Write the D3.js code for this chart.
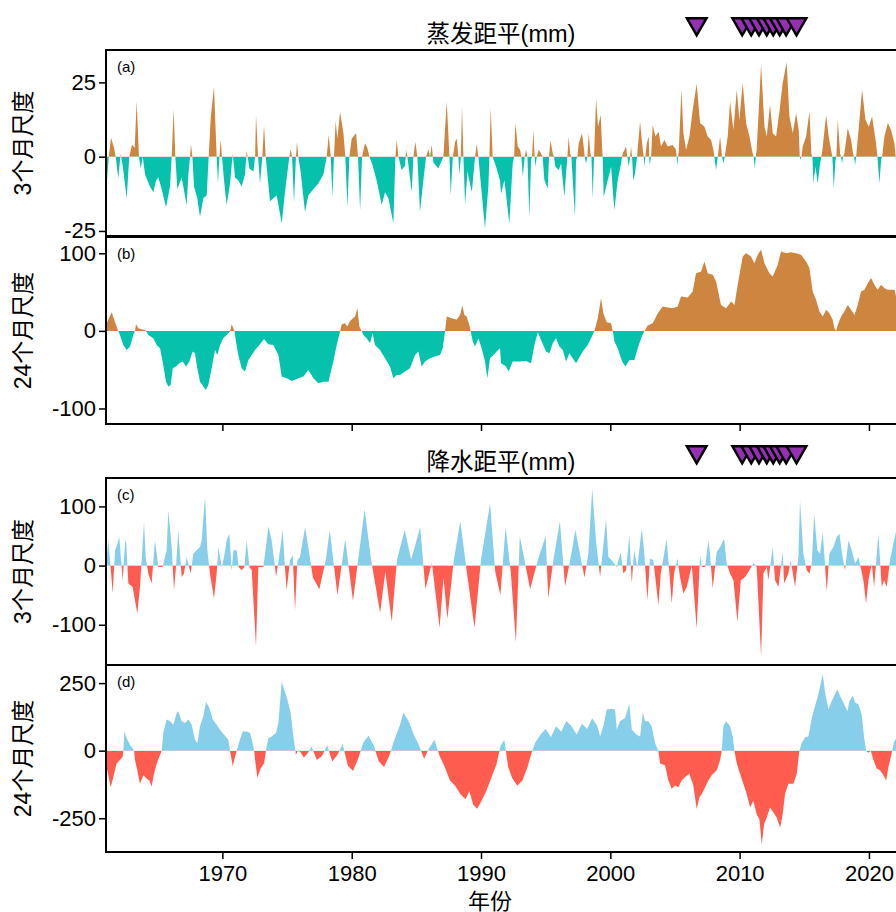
<!DOCTYPE html>
<html>
<head>
<meta charset="utf-8">
<script src="https://cdn.jsdelivr.net/npm/d3@7"></script>
<style>
  html, body { margin: 0; padding: 0; background: #fff; }
  svg { display: block; }
  text { font-family: "Liberation Sans", Arial, "Noto Sans CJK SC", sans-serif; fill: #000; }
</style>
</head>
<body>
<svg id="chart" width="896" height="912"></svg>
<script>
// ---- data: [decimal year, anomaly in mm] ----
const evap3 = [
[1961.00,-13],[1961.21,0],[1961.39,6.4],[1961.62,3],[1961.75,0],[1961.95,-7.3],[1962.13,1],[1962.29,-3],[1962.60,-14],[1962.80,0],[1963.01,4],[1963.22,3],[1963.37,18.6],[1963.55,0],[1963.68,-4],[1963.84,0],[1964.02,-6],[1964.40,-10],[1964.66,-12],[1964.87,-8],[1965.05,-7],[1965.31,-11],[1965.64,-17],[1965.95,-10],[1966.08,0],[1966.23,16],[1966.36,0],[1966.52,-11],[1966.85,-7],[1967.24,-16.3],[1967.37,-6],[1967.50,0],[1967.57,4.2],[1967.68,0],[1967.81,-10],[1968.06,-14],[1968.27,-20.3],[1968.53,-14],[1968.79,-13],[1968.94,0],[1969.10,13],[1969.35,23.6],[1969.56,0],[1969.66,-9],[1969.77,0],[1969.87,5.6],[1969.97,0],[1970.13,-8],[1970.33,-16.3],[1970.59,-9],[1970.80,1],[1970.98,-7],[1971.24,-8],[1971.49,-10],[1971.75,-6],[1971.88,2],[1972.09,-4],[1972.40,-5],[1972.53,0],[1972.60,14],[1972.76,0],[1972.91,-9],[1973.09,0],[1973.22,10.7],[1973.35,0],[1973.68,-15],[1974.20,-13],[1974.59,-22.5],[1974.84,-12],[1975.18,0],[1975.28,2.5],[1975.39,0],[1975.54,-15.5],[1975.69,0],[1975.77,5],[1975.87,0],[1976.05,-5],[1976.39,-18.6],[1976.65,-13],[1977.03,-11],[1977.42,-9],[1977.81,-6],[1978.07,0],[1978.22,7.3],[1978.38,0],[1978.51,-13.5],[1978.63,0],[1978.76,12],[1978.89,6],[1979.10,15],[1979.36,8],[1979.51,0],[1979.67,-17],[1979.82,0],[1980.00,6],[1980.34,8],[1980.49,0],[1980.65,-18],[1980.80,0],[1981.03,4.5],[1981.21,3],[1981.37,0],[1981.62,-3],[1981.93,-8],[1982.32,-16.3],[1982.58,-12],[1982.84,-14],[1983.22,-22.5],[1983.38,0],[1983.48,5.6],[1983.61,0],[1983.87,-4.5],[1984.13,-3],[1984.20,2.3],[1984.31,0],[1984.64,-12],[1984.77,0],[1984.92,5],[1985.08,0],[1985.28,-18.6],[1985.54,-8],[1985.75,0],[1985.93,2.5],[1986.06,0],[1986.19,4],[1986.32,-2],[1986.70,-4],[1987.09,0],[1987.35,18.6],[1987.56,0],[1987.66,-13],[1987.82,0],[1988.00,5],[1988.12,6],[1988.25,0],[1988.33,-6],[1988.44,0],[1988.53,17],[1988.64,0],[1988.77,-16.3],[1988.95,-5],[1989.29,-12],[1989.54,0],[1989.67,4.2],[1989.80,0],[1989.92,-6],[1990.31,-24.2],[1990.57,-10],[1990.65,0],[1990.75,16.3],[1990.90,0],[1991.21,-4],[1991.47,-8],
[1991.55,-12.4],[1991.81,-7.9],[1992.19,-22.5],[1992.45,-2.3],[1992.56,0],[1992.66,11.3],[1992.84,3.4],[1993.02,2.3],[1993.12,0],[1993.23,-6.8],[1993.38,0],[1993.48,2.3],[1993.59,0],[1993.74,-20.3],[1993.87,-1],[1993.95,0],[1994.05,9],[1994.15,0],[1994.21,-3.4],[1994.31,0],[1994.46,2.3],[1994.64,1.1],[1994.77,0],[1994.90,-7.9],[1995.16,-10.7],[1995.26,0],[1995.37,5.6],[1995.55,1.1],[1995.65,0],[1995.75,-3.4],[1996.01,-4.5],[1996.19,-2.3],[1996.45,-13.5],[1996.58,-5.6],[1996.68,0],[1996.78,6.8],[1996.89,1.1],[1996.99,0],[1997.27,-20.3],[1997.35,-1.1],[1997.45,0],[1997.56,4.5],[1997.81,7.9],[1997.94,3.4],[1998.02,0],[1998.12,-2.3],[1998.23,0],[1998.33,7.9],[1998.46,1.1],[1998.54,0],[1998.64,-14],[1998.74,0],[1998.90,19.7],[1999.05,10.1],[1999.26,14],[1999.36,3.6],[1999.41,0],[1999.49,-13.5],[1999.80,-7.9],[2000.06,-3.4],[2000.31,-18],[2000.57,-7.9],[2000.83,-2.3],[2000.91,0],[2000.96,1.1],[2001.22,3.4],[2001.32,0],[2001.42,-3.4],[2001.53,0],[2001.60,3.4],[2001.68,0],[2001.78,-8],[2001.91,-5.6],[2002.07,0],[2002.30,11.8],[2002.51,2.3],[2002.59,0],[2002.64,-3.4],[2002.71,0],[2002.82,4.5],[2002.97,6.8],[2003.01,0],[2003.05,-3],[2003.15,0],[2003.28,10.7],[2003.49,6.8],[2003.74,8.4],[2003.92,3.4],[2004.18,5.6],[2004.44,3.4],[2004.83,3.9],[2005.08,2.3],[2005.13,0],[2005.19,-3],[2005.24,0],[2005.29,1.5],[2005.50,22.7],[2005.65,7.9],[2005.86,2.3],[2006.12,6.8],[2006.37,15.8],[2006.68,24.5],[2006.94,11.3],[2007.28,10.1],[2007.53,6.8],[2007.79,5.6],[2007.97,2.3],[2008.05,0],[2008.18,-4.5],[2008.31,0],[2008.49,6.8],[2008.64,0],[2008.75,-2.3],[2008.85,0],[2009.08,6.8],[2009.26,18.6],[2009.52,9],[2009.78,22.5],[2009.98,12.4],[2010.24,24.8],[2010.50,11.3],[2010.76,6.8],[2011.01,1.1],[2011.09,0],[2011.17,-4],[2011.25,0],[2011.32,2.3],[2011.66,31],[2011.92,10.1],[2012.10,6.8],[2012.35,17.5],[2012.56,7.9],[2012.82,6.8],[2013.08,15.2],[2013.33,24.8],[2013.64,31.8],[2013.85,13.5],[2014.11,7.9],[2014.37,14.6],[2014.57,9],[2014.65,0],[2014.70,-1],[2014.78,0],[2014.88,3.4],[2015.14,6.8],[2015.40,15.2],[2015.55,1],[2015.63,0],[2015.71,-9],[2015.86,-3.4],[2016.04,-9],[2016.22,-2.3],[2016.32,0],[2016.43,3.4],[2016.69,14],[2016.89,6.8],[2017.07,2.3],[2017.17,0],[2017.28,-10.7],[2017.41,-1.1],[2017.48,0],[2017.59,12.4],[2017.77,1.1],[2017.85,0],[2017.92,-2.3],[2018.00,0],[2018.10,1.1],[2018.36,9.6],[2018.62,5.6],[2018.77,1.1],[2018.85,0],[2018.93,-2.8],[2019.01,0],[2019.13,5.6],[2019.47,22.5],[2019.73,12.4],[2019.99,10.1],[2020.24,13.5],[2020.55,4.5],[2020.66,0],[2020.81,-9],[2020.94,-1],[2021.02,0],[2021.20,6.8],[2021.46,11.3],[2021.71,9],[2021.97,4.5],[2022.07,0],[2022.17,-7.8]
];

const evap24 = [
[1961.00,8],[1961.44,24.1],[1961.70,11.2],[1961.95,0],[1962.08,-5.2],[1962.34,-18.1],[1962.60,-24.5],[1962.86,-20.2],[1963.11,-5.2],[1963.24,0],[1963.32,8.6],[1963.50,3.4],[1963.76,2.2],[1964.02,1.3],[1964.09,0],[1964.27,-5.2],[1964.66,-9.5],[1964.92,-18.1],[1965.18,-22.4],[1965.43,-43.9],[1965.64,-65.4],[1965.82,-71.8],[1966.00,-69.7],[1966.16,-48.2],[1966.41,-46],[1966.67,-41.7],[1966.93,-39.6],[1967.19,-46],[1967.45,-39.6],[1967.70,-26.7],[1967.88,-28.8],[1968.06,-48.2],[1968.27,-65.4],[1968.53,-71.8],[1968.73,-76.1],[1968.91,-69.7],[1969.17,-48.2],[1969.43,-24.5],[1969.61,-31],[1969.82,-18.1],[1970.07,-9.5],[1970.33,-5.2],[1970.59,-0.9],[1970.72,8.6],[1970.85,3.4],[1970.93,0],[1971.05,-13.8],[1971.23,-31],[1971.49,-48.2],[1971.75,-52.5],[1972.01,-37.4],[1972.27,-31],[1972.52,-24.5],[1972.86,-18.1],[1973.22,-10.3],[1973.55,-17.2],[1973.94,-18.1],[1974.33,-31],[1974.59,-58.9],[1974.97,-61.1],[1975.36,-64.5],[1975.75,-61.9],[1976.26,-58.9],[1976.65,-50.3],[1977.04,-61.1],[1977.42,-67.5],[1977.81,-65.4],[1978.20,-65.4],[1978.58,-39.6],[1978.84,-18.1],[1979.10,-0.9],[1979.23,8.6],[1979.48,9.9],[1979.66,5.6],[1979.87,12.9],[1980.26,18.5],[1980.44,29.2],[1980.59,5.6],[1980.77,0],[1980.90,-5.2],[1981.16,-9.5],[1981.42,-15.9],[1981.62,-3],[1981.80,-18.1],[1982.19,-24.5],[1982.58,-35.3],[1982.96,-46],[1983.22,-61.1],[1983.48,-56.8],[1983.74,-56.8],[1984.12,-52.5],[1984.51,-48.2],[1984.90,-31],[1985.16,-26.7],[1985.41,-46],[1985.67,-39.6],[1986.06,-35.3],[1986.44,-33.1],[1986.83,-31],[1987.04,-22.4],[1987.22,0],[1987.35,18.5],[1987.73,16.3],[1988.12,14.2],[1988.38,20.6],[1988.56,32.7],[1988.71,20.6],[1988.89,18.5],[1989.10,7.7],[1989.20,0],[1989.36,-13.8],[1989.54,-20.2],[1989.80,-9.5],[1990.05,-22.4],[1990.31,-39.6],[1990.49,-61.1],[1990.70,-35.3],[1990.96,-31],[1991.21,-26.7],[1991.47,-22.4],
[1991.55,-41.7],[1991.94,-46],[1992.14,-52.5],[1992.45,-39.6],[1992.97,-39.6],[1993.48,-38.7],[1993.87,-41.7],[1994.13,-18.1],[1994.39,-1.7],[1994.64,-11.6],[1995.03,-26.7],[1995.29,-28.8],[1995.55,-15.9],[1995.80,-9.5],[1996.06,-20.2],[1996.32,-24.5],[1996.58,-39.6],[1996.83,-28.8],[1997.35,-41.7],[1997.87,-26.7],[1998.25,-18.1],[1998.51,-9.5],[1998.77,0],[1999.03,16.3],[1999.28,42.2],[1999.46,22.8],[1999.72,11.2],[2000.06,9.9],[2000.19,0],[2000.32,-13.8],[2000.57,-22.4],[2000.91,-39.6],[2001.17,-46],[2001.47,-37.4],[2001.86,-37.4],[2002.12,-22.4],[2002.38,-9.5],[2002.64,0],[2002.89,6.9],[2003.28,9.9],[2003.67,22.8],[2004.05,31.4],[2004.44,30.1],[2004.83,29.2],[2005.21,31.4],[2005.47,44.3],[2005.99,43],[2006.37,50.8],[2006.63,74.4],[2007.02,76.6],[2007.28,89.5],[2007.53,74.4],[2007.92,72.3],[2008.18,63.7],[2008.56,33.5],[2008.95,29.2],[2009.34,37.8],[2009.60,33.5],[2009.85,59.4],[2010.24,95.9],[2010.50,100.2],[2010.88,95.9],[2011.14,87.3],[2011.40,98.1],[2011.66,104.5],[2011.92,87.3],[2012.30,74.4],[2012.56,70.1],[2012.95,85.2],[2013.20,102.4],[2013.59,100.2],[2013.98,101.5],[2014.37,100.2],[2014.75,98.1],[2015.14,89.5],[2015.40,80.9],[2015.65,50.8],[2015.91,40],[2016.17,24.9],[2016.43,18.5],[2016.69,27.1],[2016.94,22.8],[2017.20,14.2],[2017.33,3.4],[2017.46,0],[2017.59,7.7],[2017.85,18.5],[2018.10,24.9],[2018.36,33.5],[2018.62,27.1],[2018.88,20.6],[2019.13,33.5],[2019.39,50.8],[2019.65,52.9],[2019.91,61.5],[2020.16,68],[2020.42,59.4],[2020.68,52.9],[2020.94,59.4],[2021.20,55.1],[2021.45,52.9],[2021.71,52.9],[2021.97,52.9],[2022.17,40]
];

const prec3 = [
[1961.00,0],[1961.18,42.7],[1961.44,-24.7],[1961.52,-47.2],[1961.70,25.8],[1961.88,37.1],[1962.03,48.3],[1962.21,-2.2],[1962.29,-24.7],[1962.47,37.1],[1962.55,42.7],[1962.73,-30.3],[1963.06,-36],[1963.42,-80.9],[1963.63,-36],[1963.94,73.6],[1964.07,14.6],[1964.27,-13.5],[1964.53,-30.3],[1964.79,42.7],[1965.05,-2.2],[1965.38,-2.2],[1965.69,25.8],[1965.82,93.3],[1966.08,31.5],[1966.26,-41.6],[1966.41,-2.2],[1966.59,59.6],[1966.85,-19.1],[1967.03,-13.5],[1967.24,14.6],[1967.55,-13.5],[1967.75,20.2],[1968.01,25.8],[1968.27,31.5],[1968.40,42.7],[1968.66,116.9],[1968.84,25.8],[1969.04,-13.5],[1969.35,-55.6],[1969.56,-13.5],[1969.69,31.5],[1969.95,-2.2],[1970.13,14.6],[1970.33,42.7],[1970.54,53.9],[1970.72,-7.9],[1970.85,25.8],[1971.11,25.8],[1971.26,-2.2],[1971.49,-7.9],[1971.70,-2.2],[1971.88,42.7],[1972.09,-2.2],[1972.27,-7.9],[1972.60,-137],[1972.78,-2.2],[1973.17,-2.2],[1973.43,42.7],[1973.56,66.3],[1973.81,42.7],[1974.07,-2.2],[1974.15,-19.1],[1974.46,25.8],[1974.66,60.7],[1974.84,-2.2],[1974.97,-41.6],[1975.23,9],[1975.44,17.4],[1975.62,-75.3],[1975.80,9],[1976.00,14.6],
[1976.4,65],[1977.0,-20],[1977.5,-40],[1978.0,10],[1978.3,60],[1978.9,-50],[1979.5,45],[1980.1,-60],[1980.5,10],[1981.0,95],[1981.5,10],[1982.2,-80],[1982.6,-10],[1983.1,-95],[1983.5,10],[1984.1,60],[1984.6,10],[1985.3,65],[1985.7,-40],[1986.2,5],[1986.8,-105],[1987.1,-20],[1987.4,-90],[1987.9,10],[1988.4,75],[1988.9,-10],[1989.5,-105],[1990.0,10],[1990.7,105],[1991.1,-10],[1991.5,-50],[1991.9,65],[1992.3,-10],[1992.7,-130],[1993.0,50],[1993.4,5],[1993.8,-40],[1994.4,10],[1995.0,50],[1995.2,-55],[1995.6,10],[1996.1,75],[1996.5,-35],[1996.9,10],[1997.3,60],[1998.0,-20],[1998.3,20],[1998.6,130],[1998.9,40],[1999.21,-19.1],
[1999.67,79.2],[1999.85,14.6],[2000.11,9],[2000.49,-2.2],[2000.80,23],[2001.01,-13.5],[2001.22,-7.9],[2001.47,51.1],[2001.66,-30.3],[2001.84,25.8],[2002.09,-2.2],[2002.43,62.4],[2002.61,25.8],[2002.87,-58.4],[2003.07,11.8],[2003.33,9],[2003.72,-66.9],[2003.90,-13.5],[2004.36,45.5],[2004.49,9],[2004.75,-64],[2004.93,-13.5],[2005.19,11.8],[2005.39,-19.1],[2005.65,-47.2],[2005.91,-36],[2006.04,-24.7],[2006.30,0.6],[2006.68,-106.2],[2006.94,17.4],[2007.07,-2.2],[2007.33,-2.2],[2007.58,42.7],[2007.71,20.2],[2007.92,-38.8],[2008.10,-2.2],[2008.23,23],[2008.49,31.5],[2008.80,45.5],[2009.00,3.4],[2009.26,-13.5],[2009.52,-24.7],[2009.83,-94.9],[2010.09,-24.7],[2010.42,-19.1],[2010.68,-10.7],[2011.07,4.5],[2011.32,-2.2],[2011.66,-153.9],[2011.84,-13.5],[2012.10,-2.2],[2012.22,-24.7],[2012.56,31.5],[2012.74,-24.7],[2013.00,-36],[2013.33,23],[2013.44,-30.3],[2013.77,-13.5],[2013.95,9],[2014.29,-36],[2014.55,17.4],[2014.67,110.1],[2014.93,20.2],[2015.19,-7.9],[2015.40,-13.5],[2015.58,3.4],[2015.76,87.6],[2016.01,25.8],[2016.22,20.2],[2016.43,56.7],[2016.74,-44.4],[2016.94,20.2],[2017.25,31.5],[2017.51,48.3],[2017.72,53.9],[2017.92,20.2],[2018.15,-7.9],[2018.41,42.7],[2018.67,25.8],[2018.93,3.4],[2019.19,14.6],[2019.57,-24.7],[2019.78,-64],[2019.96,-24.7],[2020.22,3.4],[2020.40,-36],[2020.73,53.9],[2020.99,-36],[2021.17,-24.7],[2021.38,-36],[2021.63,9],[2021.89,37.1],[2022.17,65.2]
];

const prec24 = [
[1961.00,-40],[1961.05,-60],[1961.18,-91],[1961.36,-135],[1961.57,-97.5],[1961.82,-47.5],[1962.08,-35],[1962.29,-22.5],[1962.34,0],[1962.42,71],[1962.60,46],[1962.86,21],[1963.06,9],[1963.17,0],[1963.24,-35],[1963.42,-72.5],[1963.63,-122.5],[1963.89,-91],[1964.15,-104],[1964.35,-110],[1964.53,-132.5],[1964.71,-85],[1964.92,-47.5],[1965.18,-16],[1965.31,0],[1965.43,65],[1965.69,115],[1965.95,109],[1966.21,96],[1966.47,140],[1966.59,146],[1966.85,109],[1967.11,102.5],[1967.37,115],[1967.63,96],[1967.88,40],[1968.06,27.5],[1968.27,90],[1968.53,127.5],[1968.73,180],[1968.99,159],[1969.25,115],[1969.56,96],[1969.82,77.5],[1970.13,59],[1970.46,40],[1970.59,0],[1970.72,-35],[1970.80,-57.5],[1970.98,-22.5],[1971.11,0],[1971.31,34],[1971.57,71],[1971.88,71],[1972.14,65],[1972.34,27.5],[1972.45,0],[1972.60,-60],[1972.70,-100],[1972.96,-66],[1973.22,-47.5],[1973.37,0],[1973.55,46],[1973.81,52.5],[1974.15,65],[1974.33,102.5],[1974.59,255],[1974.77,227.5],[1975.02,190],[1975.28,140],[1975.49,52.5],[1975.62,9],[1975.69,-16],[1975.88,5],
[1976.3,-25],[1976.6,-10],[1976.9,15],[1977.3,-35],[1977.7,-20],[1978.1,20],[1978.5,-40],[1978.9,-15],[1979.3,25],[1979.7,-55],[1980.1,-75],[1980.5,-30],[1980.9,30],[1981.3,55],[1981.7,20],[1982.1,-40],[1982.5,-60],[1982.9,-20],[1983.3,40],[1983.7,90],[1984.0,140],[1984.4,110],[1984.8,60],[1985.2,20],[1985.6,-30],[1986.0,10],[1986.4,40],[1986.8,-20],[1987.2,-60],[1987.6,-110],[1988.0,-130],[1988.4,-160],[1988.8,-180],[1989.1,-150],[1989.4,-200],[1989.7,-215],[1990.0,-190],[1990.4,-150],[1990.8,-100],[1991.2,-50],[1991.5,15],[1991.8,40],[1992.1,-60],[1992.4,-100],[1992.8,-130],[1993.2,-110],[1993.6,-60],[1993.9,-10],[1994.2,30],[1994.6,60],[1995.0,80],[1995.4,50],[1995.8,90],[1996.2,70],[1996.6,110],[1997.0,90],[1997.4,60],[1997.8,100],[1998.2,80],[1998.6,120],[1999.0,90],
[1999.21,52.5],[1999.46,90],[1999.72,152.5],[2000.11,155],[2000.37,152.5],[2000.50,77.5],[2000.75,108.8],[2001.14,121.3],[2001.47,171.3],[2001.66,77.5],[2002.04,58.8],[2002.30,52.5],[2002.51,140],[2002.69,108.8],[2002.94,108.8],[2003.20,90],[2003.46,27.5],[2003.72,0],[2003.85,-47.5],[2004.23,-53.8],[2004.49,-110],[2004.75,-141.3],[2005.01,-128.8],[2005.26,-135],[2005.52,-110],[2005.78,-97.5],[2006.11,-85],[2006.42,-128.8],[2006.68,-216.3],[2006.89,-172.5],[2007.07,-160],[2007.33,-135],[2007.58,-110],[2007.84,-91.3],[2008.23,-72.5],[2008.49,-35],[2008.62,0],[2008.74,90],[2008.95,108.8],[2009.26,90],[2009.47,52.5],[2009.60,0],[2009.78,-47.5],[2010.03,-85],[2010.29,-122.5],[2010.55,-160],[2010.81,-210],[2011.06,-185],[2011.32,-235],[2011.53,-253.8],[2011.71,-347.5],[2011.89,-272.5],[2012.10,-247.5],[2012.35,-210],[2012.61,-228.8],[2012.87,-247.5],[2013.13,-285],[2013.33,-235],[2013.51,-160],[2013.77,-122.5],[2014.16,-122.5],[2014.42,-85],[2014.62,0],[2014.80,27.5],[2015.06,50],[2015.32,52.5],[2015.58,121.3],[2015.83,165],[2016.09,208.8],[2016.43,283.8],[2016.61,215],[2016.87,152.5],[2017.12,183.8],[2017.38,208.8],[2017.56,227.5],[2017.77,202.5],[2018.03,177.5],[2018.34,146.3],[2018.49,183.8],[2018.75,202.5],[2018.93,177.5],[2019.19,171.3],[2019.44,133.8],[2019.62,52.5],[2019.78,0],[2019.96,-7.5],[2020.14,0],[2020.35,-35],[2020.60,-66.3],[2020.86,-72.5],[2021.12,-91.3],[2021.33,-110],[2021.51,-60],[2021.76,-10],[2021.95,33.8],[2022.17,46.3]
];

// drought-event markers (decimal year)
const eventYears = [2006.68, 2010.2, 2010.9, 2011.5, 2012.1, 2012.6, 2013.1, 2013.6, 2014.4];

const yearTicks = [1970, 1980, 1990, 2000, 2010, 2020];
const ticksEvap3 = [-25, 0, 25];
const ticksEvap24 = [-100, 0, 100];
const ticksPrec3 = [-100, 0, 100];
const ticksPrec24 = [-250, 0, 250];

const titles = ["蒸发距平(mm)", "降水距平(mm)"];
const scaleLabels = ["3个月尺度", "24个月尺度", "3个月尺度", "24个月尺度"];
const tags = ["(a)", "(b)", "(c)", "(d)"];
const xTitle = "年份";

// ---- layout ----
const plotLeft = 106, plotRight = 897;
const EVAP_POS = "#CD853F", EVAP_NEG = "#06C2AC";
const PREC_POS = "#87CEEB", PREC_NEG = "#FF5C50";
const MARKER_FILL = "#9530B5";

const x = d3.scaleLinear().domain([1961, 2022.17]).range([plotLeft, plotRight]);

const panels = [
  { series: evap3,  top: 50,  bottom: 236, domain: [-26.7, 35.9], ticks: ticksEvap3,  pos: EVAP_POS, neg: EVAP_NEG, xAxis: false },
  { series: evap24, top: 237, bottom: 424, domain: [-120, 121],   ticks: ticksEvap24, pos: EVAP_POS, neg: EVAP_NEG, xAxis: true,  xLabels: false },
  { series: prec3,  top: 478, bottom: 665, domain: [-168, 148],   ticks: ticksPrec3,  pos: PREC_POS, neg: PREC_NEG, xAxis: false },
  { series: prec24, top: 665, bottom: 852, domain: [-375, 317],   ticks: ticksPrec24, pos: PREC_POS, neg: PREC_NEG, xAxis: true,  xLabels: true }
];

const svg = d3.select("#chart");
const defs = svg.append("defs");

panels.forEach((p, i) => {
  const y = d3.scaleLinear().domain(p.domain).range([p.bottom, p.top]);
  const y0 = y(0);
  const w = plotRight - plotLeft;

  defs.append("clipPath").attr("id", "pos" + i)
    .append("rect").attr("x", plotLeft).attr("y", p.top).attr("width", w).attr("height", y0 - p.top);
  defs.append("clipPath").attr("id", "neg" + i)
    .append("rect").attr("x", plotLeft).attr("y", y0).attr("width", w).attr("height", p.bottom - y0);

  const area = d3.area().x(d => x(d[0])).y0(y0).y1(d => y(d[1]));
  const g = svg.append("g");
  g.append("path").datum(p.series).attr("d", area).attr("fill", p.pos).attr("clip-path", `url(#pos${i})`);
  g.append("path").datum(p.series).attr("d", area).attr("fill", p.neg).attr("clip-path", `url(#neg${i})`);

  // panel frame
  g.append("rect").attr("x", plotLeft).attr("y", p.top).attr("width", w).attr("height", p.bottom - p.top)
    .attr("fill", "none").attr("stroke", "#000").attr("stroke-width", 2);

  // y axis
  const ay = g.append("g").attr("transform", `translate(${plotLeft - 1},0)`)
    .call(d3.axisLeft(y).tickValues(p.ticks).tickSize(6).tickPadding(3).tickFormat(d => String(d)));
  ay.attr("font-family", null).attr("font-size", null);
  ay.select(".domain").remove();
  ay.selectAll(".tick line").attr("stroke", "#000").attr("stroke-width", 1.5);
  ay.selectAll(".tick text").attr("font-size", 22).attr("fill", "#000");

  // x axis
  if (p.xAxis) {
    const ax = g.append("g").attr("transform", `translate(0,${p.bottom + 1})`)
      .call(d3.axisBottom(x).tickValues(yearTicks).tickSize(6).tickPadding(6)
        .tickFormat(p.xLabels ? d3.format("d") : () => ""));
    ax.attr("font-family", null).attr("font-size", null);
    ax.select(".domain").remove();
    ax.selectAll(".tick line").attr("stroke", "#000").attr("stroke-width", 1.5);
    ax.selectAll(".tick text").attr("font-size", 22).attr("fill", "#000");
  }

  // panel tag
  g.append("text").attr("x", 117).attr("y", p.top + 22).attr("font-size", 15).text(tags[i]);

  // scale label
  g.append("text")
    .attr("transform", `translate(31,${(p.top + p.bottom) / 2}) rotate(-90)`)
    .attr("text-anchor", "middle").attr("font-size", 23).text(scaleLabels[i]);
});

// group titles and event markers
const groupTops = [50, 478];
groupTops.forEach((top, k) => {
  svg.append("text").attr("x", 501).attr("y", top - 8).attr("text-anchor", "middle")
    .attr("font-size", 23.5).text(titles[k]);
  const tri = d3.symbol().type(d3.symbolTriangle).size(165);
  svg.append("g").selectAll("path").data(eventYears).join("path")
    .attr("d", tri)
    .attr("transform", d => `translate(${x(d)},${top - 26}) rotate(180)`)
    .attr("fill", MARKER_FILL).attr("stroke", "#000").attr("stroke-width", 2.5).attr("stroke-linejoin", "miter");
});

svg.append("text").attr("x", 490).attr("y", 909).attr("text-anchor", "middle")
  .attr("font-size", 22).text(xTitle);
</script>
</body>
</html>
